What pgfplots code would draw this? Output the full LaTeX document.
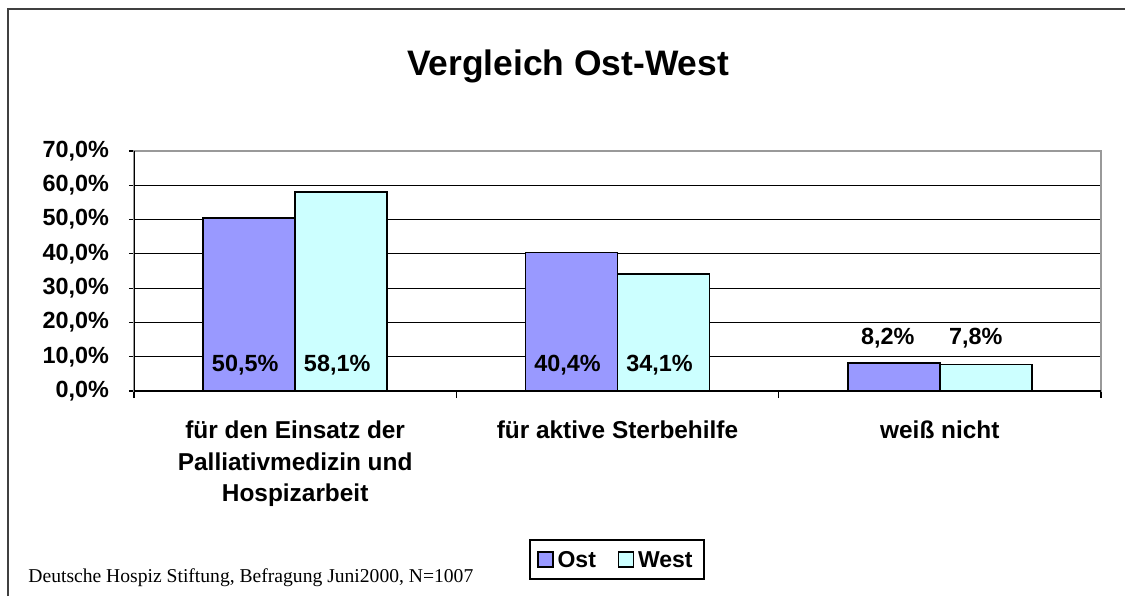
\documentclass[border=0pt]{standalone}
\usepackage{fontspec}
\setmainfont{Liberation Sans}
\newfontfamily\srcfont{Liberation Serif}
\usepackage{pgfplots}
\pgfplotsset{compat=1.18}
\definecolor{ost}{HTML}{9999FF}
\definecolor{west}{HTML}{CCFFFF}
\definecolor{framec}{HTML}{404040}
\pgfplotsset{sqlegend/.style={legend image code/.code={\draw[##1,line width=0.6pt] (0pt,-3.75pt) rectangle (7.5pt,3.75pt);}}}
\tikzset{lbl/.style={font=\fontsize{11.7}{14}\selectfont\bfseries,inner sep=0pt}}
\begin{document}
\begin{tikzpicture}
\useasboundingbox (0,0) rectangle (562.5pt,298pt);
\draw[framec,line width=1pt] (4pt,0) -- (4pt,293.5pt) -- (562.5pt,293.5pt);
\begin{axis}[
 at={(67pt,102.5pt)}, anchor=south west,
 scale only axis, width=483.5pt, height=120pt,
 xmin=-0.5, xmax=2.5, ymin=0, ymax=70,
 ybar=0pt, bar width=46pt,
 xtick={0,1,2},
 xticklabels={{für den Einsatz der\\Palliativmedizin und\\Hospizarbeit},{für aktive Sterbehilfe},{weiß nicht}},
 minor xtick={-0.5,0.5,1.5,2.5},
 xtick pos=bottom, ytick pos=left,
 tick align=outside,
 major tick length=2.5pt, minor tick length=3.5pt,
 major x tick style={draw=none},
 minor x tick style={black,line width=0.6pt},
 ytick={0,10,20,30,40,50,60,70},
 yticklabels={{0,0\%},{10,0\%},{20,0\%},{30,0\%},{40,0\%},{50,0\%},{60,0\%},{70,0\%}},
 ymajorgrids, major grid style={black,line width=0.6pt},
 axis line style={draw=gray!80,line width=0.6pt},
 y tick style={black,line width=0.6pt},
 tick label style={font=\fontsize{11.7}{14}\selectfont\bfseries},
 yticklabel style={xshift=-6.5pt},
 xticklabel style={align=center,font=\fontsize{12.2}{15.75}\selectfont\bfseries,yshift=-9pt},
 legend style={at={(0.4995,-0.702)},anchor=center,legend columns=2,draw=black,line width=0.9pt,
   font=\fontsize{11.5}{13}\selectfont\bfseries, inner sep=3.5pt,
   nodes={text height=8.4pt,text depth=0pt},
   /tikz/every even column/.append style={column sep=9pt}},
]
\addplot[fill=ost,draw=black,line width=0.75pt,sqlegend] coordinates {(0,50.5) (1,40.4) (2,8.2)};
\addplot[fill=west,draw=black,line width=0.75pt,sqlegend] coordinates {(0,58.1) (1,34.1) (2,7.8)};
\legend{Ost,West}
\draw[gray!80,line width=0.75pt] (rel axis cs:0,1) -- (rel axis cs:1,1) -- (rel axis cs:1,0);
\draw[black,line width=0.75pt] (rel axis cs:0,1) -- (rel axis cs:0,0) -- (rel axis cs:1,0);
\node[lbl,xshift=-25pt] at (axis cs:0,7.6) {50,5\%};
\node[lbl,xshift=21pt] at (axis cs:0,7.6) {58,1\%};
\node[lbl,xshift=-25pt] at (axis cs:1,7.6) {40,4\%};
\node[lbl,xshift=21pt] at (axis cs:1,7.6) {34,1\%};
\node[lbl,xshift=-26pt] at (axis cs:2,15.5) {8,2\%};
\node[lbl,xshift=18pt] at (axis cs:2,15.5) {7,8\%};
\end{axis}
\node[anchor=base,font=\fontsize{17.7}{20}\selectfont\bfseries] at (284pt,260.5pt) {Vergleich Ost-West};
\node[anchor=base west,inner sep=0pt,font=\srcfont\fontsize{9.8}{11}\selectfont] at (14pt,7pt) {Deutsche Hospiz Stiftung, Befragung Juni2000, N=1007};
\end{tikzpicture}
\end{document}
